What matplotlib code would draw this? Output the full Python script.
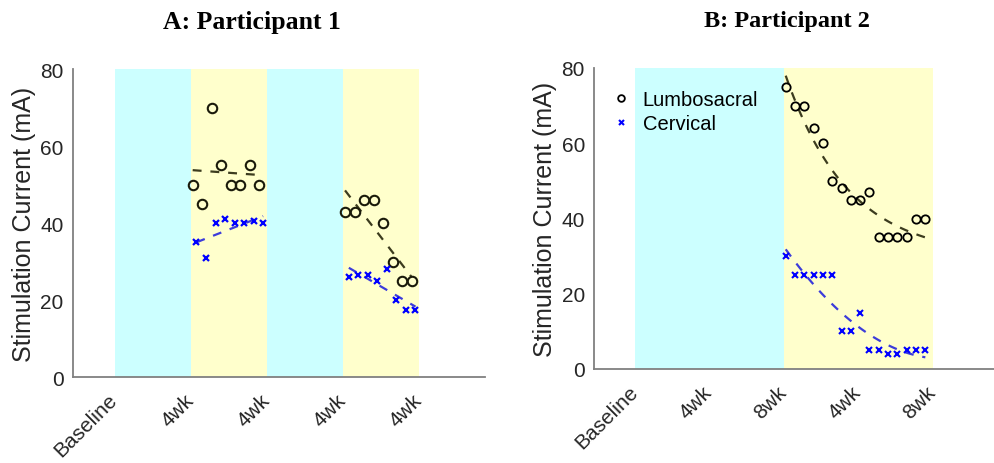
import numpy as np
import matplotlib
matplotlib.use("Agg")
import matplotlib.pyplot as plt
from matplotlib.transforms import ScaledTranslation

# ---- data (weeks since baseline, stimulation current in mA) ----
p1_ls_x1 = [4.1, 4.6, 5.1, 5.6, 6.1, 6.6, 7.1, 7.6]
p1_ls_y1 = [50, 45, 70, 55, 50, 50, 55, 50]
p1_cv_x1 = [4.3, 4.8, 5.3, 5.8, 6.3, 6.8, 7.3, 7.8]
p1_cv_y1 = [35, 31, 40, 41, 40, 40, 40.5, 40]
p1_ls_x2 = [12.1, 12.6, 13.1, 13.6, 14.1, 14.6, 15.1, 15.6]
p1_ls_y2 = [43, 43, 46, 46, 40, 30, 25, 25]
p1_cv_x2 = [12.3, 12.8, 13.3, 13.8, 14.3, 14.8, 15.3, 15.8]
p1_cv_y2 = [26, 26.5, 26.5, 25, 28, 20, 17.5, 17.5]

p2_x = [8.1, 8.6, 9.1, 9.6, 10.1, 10.6, 11.1, 11.6,
        12.1, 12.6, 13.1, 13.6, 14.1, 14.6, 15.1, 15.6]
p2_ls_y = [75, 70, 70, 64, 60, 50, 48, 45, 45, 47, 35, 35, 35, 35, 40, 40]
p2_cv_y = [30, 25, 25, 25, 25, 25, 10, 10, 15, 5, 5, 4, 4, 5, 5, 5]

tick_pos = [0, 4, 8, 12, 16]
p1_ticklabels = ["Baseline", "4wk", "4wk", "4wk", "4wk"]
p2_ticklabels = ["Baseline", "4wk", "8wk", "4wk", "8wk"]
p1_phases = [(0, 4, "c"), (4, 8, "y"), (8, 12, "c"), (12, 16, "y")]
p2_phases = [(0, 8, "c"), (8, 16, "y")]

CYAN = "#ccffff"
YELLOW = "#ffffcc"
SPINE = "#808080"
TXT = "#262626"

plt.rcParams["font.family"] = ["Liberation Sans", "DejaVu Sans"]

fig = plt.figure(figsize=(9.95, 4.64), dpi=100)
W, H = 995, 464


def px_axes(x0, x1, ytop, ybot):
    return fig.add_axes([x0 / W, 1 - ybot / H, (x1 - x0) / W, (ybot - ytop) / H])


ax1 = px_axes(72.7, 485, 70, 378.3)
ax2 = px_axes(594, 997, 69, 370)


def style(ax, labels, phases):
    for a, b, c in phases:
        ax.axvspan(a, b, ymin=0, ymax=1, color=CYAN if c == "c" else YELLOW,
                   lw=0, zorder=0)
    ax.set_xlim(-2.2, 19.45)
    ax.set_ylim(0, 80)
    ax.set_yticks([0, 20, 40, 60, 80])
    ax.set_xticks(tick_pos)
    ax.set_xticklabels(labels, rotation=45, ha="right", va="center",
                       rotation_mode="anchor", fontsize=15, color=TXT)
    shift = ScaledTranslation(12 / 100, 0, fig.dpi_scale_trans)
    for lab in ax.get_xticklabels():
        lab.set_transform(lab.get_transform() + shift)
    ax.tick_params(axis="both", length=0, labelcolor=TXT)
    ax.tick_params(axis="y", labelsize=15, pad=6.5)
    ax.tick_params(axis="x", pad=14)
    for s in ("top", "right"):
        ax.spines[s].set_visible(False)
    for s in ("left", "bottom"):
        ax.spines[s].set_color(SPINE)
        ax.spines[s].set_linewidth(1.3)
    ax.set_ylabel("Stimulation Current (mA)", fontsize=18, color=TXT, labelpad=3)


def draw_trend(ax, x, y, color):
    ax.plot(x, y, color=color, lw=1.6, alpha=0.85, dashes=(4.0, 4.0), zorder=2)


def poly_trend(ax, x, y, deg, color):
    c = np.polyfit(x, y, deg)
    xs = np.linspace(min(x), max(x), 100)
    draw_trend(ax, xs, np.polyval(c, xs), color)


def decay_trend(ax, x, y, color):
    # least-squares fit of y = c + a * exp(-k * (x - x0)) over a grid of k
    x = np.asarray(x, float)
    y = np.asarray(y, float)
    t = x - x.min()
    best = None
    for k in np.linspace(0.01, 3.0, 600):
        A = np.column_stack([np.ones_like(t), np.exp(-k * t)])
        coef, *_ = np.linalg.lstsq(A, y, rcond=None)
        sse = np.sum((A @ coef - y) ** 2)
        if best is None or sse < best[0]:
            best = (sse, k, coef)
    _, k, (c0, a0) = best
    xs = np.linspace(x.min(), x.max(), 100)
    draw_trend(ax, xs, c0 + a0 * np.exp(-k * (xs - x.min())), color)


style(ax1, p1_ticklabels, p1_phases)
style(ax2, p2_ticklabels, p2_phases)

# Participant 1
for x, y in ((p1_ls_x1, p1_ls_y1), (p1_ls_x2, p1_ls_y2)):
    ax1.plot(x, y, "o", mfc="none", mec="#1a1a0a", ms=6.8, mew=1.5, zorder=3)
    poly_trend(ax1, x, y, 1, "#1a1a00")
for x, y in ((p1_cv_x1, p1_cv_y1), (p1_cv_x2, p1_cv_y2)):
    ax1.plot(x, y, "x", color="#0000ff", ms=5, mew=1.6, zorder=3)
    poly_trend(ax1, x, y, 1, "#1a1add")

# Participant 2
h1, = ax2.plot(p2_x, p2_ls_y, "o", mfc="none", mec="black", ms=6, mew=1.3,
               zorder=3, label="Lumbosacral")
h2, = ax2.plot(p2_x, p2_cv_y, "x", color="#0000ff", ms=4.5, mew=1.5,
               zorder=3, label="Cervical")
decay_trend(ax2, p2_x, p2_ls_y, "#1a1a00")
poly_trend(ax2, p2_x, p2_cv_y, 2, "#1a1add")

ax2.legend(handles=[h1, h2], loc="upper left", bbox_to_anchor=(0.008, 0.975),
           frameon=False, fontsize=14.5, handlelength=1.0, handletextpad=0.55,
           labelspacing=0.25, borderaxespad=0.3, markerscale=0.8)

fig.text(252 / W, 1 - 22 / H, "A: Participant 1", ha="center", va="center",
         fontsize=18.5, fontweight="bold", family="Liberation Serif")
fig.text(787 / W, 1 - 22 / H, "B: Participant 2", ha="center", va="center",
         fontsize=17.5, fontweight="bold", family="Liberation Serif")

fig.savefig("out.png", dpi=100)
